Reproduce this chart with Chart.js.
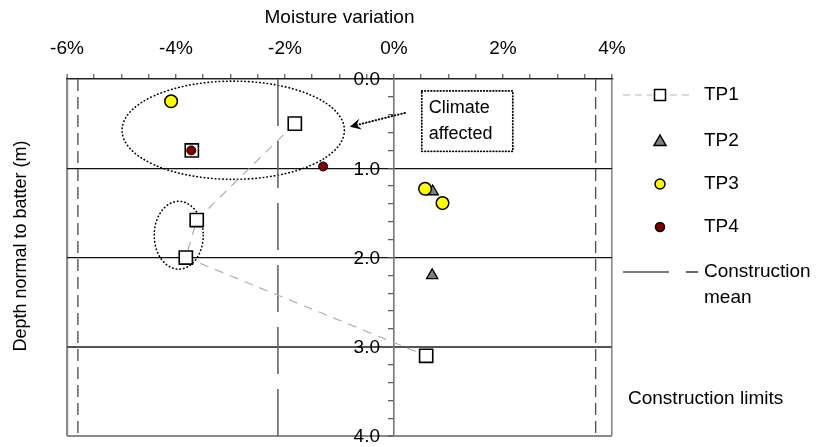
<!DOCTYPE html>
<html>
<head>
<meta charset="utf-8">
<script src="https://cdn.jsdelivr.net/npm/chart.js@4"></script>
<style>
  html, body { margin: 0; padding: 0; background: #fff; }
</style>
</head>
<body>
<canvas id="chart" width="819" height="447"></canvas>
<script>
// test pit readings: moisture variation (%) vs depth (m)
const tp1X = [-1.82, -3.71, -3.62, -3.82, 0.59];
const tp1Y = [0.5, 0.8, 1.58, 2.0, 3.1];
const tp1PathX = [-1.82, -3.62, -3.82, 0.59];
const tp1PathY = [0.5, 1.58, 2.0, 3.1];
const tp2X = [0.71, 0.70];
const tp2Y = [1.26, 2.2];
const tp3X = [-4.09, 0.57, 0.89];
const tp3Y = [0.25, 1.23, 1.39];
const tp4X = [-3.72, -1.30];
const tp4Y = [0.8, 0.98];
const meanX = [-2.13];
const limitsX = [-5.8, 3.7];
const depthSpan = [0, 4];
const xTickLabels = [-6, -4, -2, 0, 2, 4];
const yTickLabels = [0, 1, 2, 3, 4];

// annotations in data units: [centre x, centre y, radius x, radius y]
const bigEllipse = [-2.95, 0.574, 2.04, 0.55];
const smallEllipse = [-3.95, 1.75, 0.45, 0.38];
const noteBox = [0.51, 0.134, 2.18, 0.81];
const noteArrow = [0.20, 0.38, -0.81, 0.535];
const noteLines = ['Climate', 'affected'];

const FONT = '"Liberation Sans", Arial, sans-serif';
const pts = (xs, ys) => xs.map((x, i) => ({ x, y: ys[i] }));
const isWhole = v => Math.abs(v - Math.round(v)) < 1e-6;

const vline = (x, color, dash, width) => ({
  data: depthSpan.map(y => ({ x, y })),
  showLine: true, pointRadius: 0, borderColor: color, borderDash: dash,
  borderWidth: width, order: 6
});

const annotations = {
  id: 'annotations',
  beforeDatasetsDraw(chart) {
    const { ctx, scales: { x, y } } = chart;
    ctx.save();
    ctx.strokeStyle = '#000';
    ctx.lineWidth = 1.6;
    ctx.lineCap = 'round';
    ctx.setLineDash([0.5, 3.2]);
    [bigEllipse, smallEllipse].forEach(e => {
      const cx = x.getPixelForValue(e[0]);
      const cy = y.getPixelForValue(e[1]);
      const rx = x.getPixelForValue(e[0] + e[2]) - cx;
      const ry = y.getPixelForValue(e[1] + e[3]) - cy;
      ctx.beginPath();
      ctx.ellipse(cx, cy, rx, ry, 0, 0, Math.PI * 2);
      ctx.stroke();
    });
    // text box
    const bx1 = x.getPixelForValue(noteBox[0]), by1 = y.getPixelForValue(noteBox[1]);
    const bx2 = x.getPixelForValue(noteBox[2]), by2 = y.getPixelForValue(noteBox[3]);
    ctx.setLineDash([0.5, 2.6]);
    ctx.lineWidth = 1.8;
    ctx.strokeRect(bx1, by1, bx2 - bx1, by2 - by1);
    ctx.setLineDash([]);
    ctx.fillStyle = '#000';
    ctx.font = '18px ' + FONT;
    ctx.textAlign = 'left';
    ctx.textBaseline = 'middle';
    ctx.fillText(noteLines[0], bx1 + 7, by1 + 17);
    ctx.fillText(noteLines[1], bx1 + 7, by1 + 43);
    // arrow
    const ax1 = x.getPixelForValue(noteArrow[0]), ay1 = y.getPixelForValue(noteArrow[1]);
    const ax2 = x.getPixelForValue(noteArrow[2]), ay2 = y.getPixelForValue(noteArrow[3]);
    const ang = Math.atan2(ay2 - ay1, ax2 - ax1);
    ctx.setLineDash([0.5, 2.8]);
    ctx.lineWidth = 2;
    ctx.beginPath();
    ctx.moveTo(ax1, ay1);
    ctx.lineTo(ax2 - 6 * Math.cos(ang), ay2 - 6 * Math.sin(ang));
    ctx.stroke();
    ctx.setLineDash([]);
    ctx.translate(ax2, ay2);
    ctx.rotate(ang);
    ctx.beginPath();
    ctx.moveTo(0, 0);
    ctx.lineTo(-11, -5.5);
    ctx.lineTo(-7, 0);
    ctx.lineTo(-11, 5.5);
    ctx.closePath();
    ctx.fill();
    ctx.restore();
  }
};

const sideKey = {
  id: 'sideKey',
  afterDraw(chart) {
    const { ctx, scales: { x, y } } = chart;
    ctx.save();
    ctx.font = '19px ' + FONT;
    ctx.fillStyle = '#000';
    ctx.textBaseline = 'middle';
    // depth labels sit left of the zero line
    ctx.textAlign = 'right';
    const zx = x.getPixelForValue(0);
    yTickLabels.forEach(v => ctx.fillText(v.toFixed(1), zx - 14, y.getPixelForValue(v) + 1));
    ctx.textAlign = 'left';
    const mx = 660, tx = 704;
    // TP1
    ctx.strokeStyle = '#b5b5b5';
    ctx.lineWidth = 1.2;
    ctx.setLineDash([7, 5]);
    ctx.beginPath(); ctx.moveTo(623, 95); ctx.lineTo(652, 95); ctx.stroke();
    ctx.beginPath(); ctx.moveTo(670, 95); ctx.lineTo(694, 95); ctx.stroke();
    ctx.setLineDash([]);
    ctx.strokeStyle = '#000';
    ctx.lineWidth = 1.5;
    ctx.fillStyle = '#fff';
    ctx.fillRect(mx - 5.5, 89.5, 11, 11);
    ctx.strokeRect(mx - 5.5, 89.5, 11, 11);
    // TP2
    ctx.fillStyle = '#808080';
    ctx.beginPath();
    ctx.moveTo(mx, 135); ctx.lineTo(mx + 6, 145.5); ctx.lineTo(mx - 6, 145.5); ctx.closePath();
    ctx.fill(); ctx.stroke();
    // TP3
    ctx.fillStyle = '#ffff00';
    ctx.beginPath(); ctx.arc(mx, 184, 5, 0, Math.PI * 2); ctx.fill(); ctx.stroke();
    // TP4
    ctx.fillStyle = '#800000';
    ctx.beginPath(); ctx.arc(mx, 227, 4.5, 0, Math.PI * 2); ctx.fill(); ctx.stroke();
    // construction mean
    ctx.lineWidth = 1.2;
    ctx.beginPath(); ctx.moveTo(623, 272); ctx.lineTo(669, 272); ctx.stroke();
    ctx.beginPath(); ctx.moveTo(686, 272); ctx.lineTo(698, 272); ctx.stroke();
    ctx.fillStyle = '#000';
    ctx.fillText('TP1', tx, 95);
    ctx.fillText('TP2', tx, 141);
    ctx.fillText('TP3', tx, 184);
    ctx.fillText('TP4', tx, 227);
    ctx.fillText('Construction', tx, 272);
    ctx.fillText('mean', tx, 298);
    ctx.fillText('Construction limits', 628, 399);
    // y axis title
    ctx.font = '18px ' + FONT;
    ctx.translate(21, 246);
    ctx.rotate(-Math.PI / 2);
    ctx.textAlign = 'center';
    ctx.fillText('Depth normal to batter (m)', 0, 0);
    ctx.restore();
  }
};

new Chart(document.getElementById('chart'), {
  type: 'scatter',
  data: {
    datasets: [
      { label: 'TP4', data: pts(tp4X, tp4Y), pointStyle: 'circle', pointRadius: 4.5,
        backgroundColor: '#800000', borderColor: '#000', borderWidth: 1, order: 0 },
      { label: 'TP3', data: pts(tp3X, tp3Y), pointStyle: 'circle', pointRadius: 6.3,
        backgroundColor: '#ffff00', borderColor: '#000', borderWidth: 1.5, order: 1 },
      { label: 'TP2', data: pts(tp2X, tp2Y), pointStyle: 'triangle', pointRadius: 6.5,
        backgroundColor: '#808080', borderColor: '#000', borderWidth: 1.3, order: 2 },
      { label: 'TP1', data: pts(tp1X, tp1Y), pointStyle: 'rect', pointRadius: 9.3,
        backgroundColor: '#fff', borderColor: '#000', borderWidth: 1.6, order: 3 },
      { label: 'TP1 trend', data: pts(tp1PathX, tp1PathY), showLine: true, pointRadius: 0,
        borderColor: '#b0b0b0', borderDash: [9, 7], borderWidth: 1.2, order: 4 },
      vline(meanX[0], '#666', [47, 15], 1.6),
      ...limitsX.map(v => vline(v, '#555', [12, 6], 1.4))
    ]
  },
  options: {
    responsive: false,
    animation: false,
    events: [],
    layout: { padding: { left: 67, right: 207, top: 0, bottom: 9 } },
    plugins: { legend: { display: false }, tooltip: { enabled: false } },
    scales: {
      x: {
        type: 'linear', position: 'top', min: -6, max: 4,
        afterFit: s => { s.height = 79; s.paddingLeft = 0; s.paddingRight = 0; },
        ticks: {
          stepSize: 0.5, autoSkip: false, maxRotation: 0, padding: 14,
          color: '#000', font: { family: FONT, size: 19 },
          callback: v => (isWhole(v) && xTickLabels.includes(Math.round(v))) ? Math.round(v) + '%' : ''
        },
        grid: {
          drawOnChartArea: true, tickLength: 5, tickColor: '#333', tickWidth: 1,
          color: c => (c.tick && (c.tick.value === -6 || c.tick.value === 4)) ? '#8a8a8a' : 'rgba(0,0,0,0)',
          lineWidth: c => (c.tick && c.tick.value === -6) ? 2.2 : 1.6
        },
        border: { color: '#222', width: 1.5 },
        title: {
          display: true, text: 'Moisture variation', color: '#000',
          font: { family: FONT, size: 19 }, padding: { top: 6, bottom: 0 }
        }
      },
      y: {
        type: 'linear', position: { x: 0 }, reverse: true, min: 0, max: 4,
        afterFit: s => { s.paddingTop = 0; s.paddingBottom = 0; },
        ticks: { stepSize: 0.2, autoSkip: false, display: false },
        grid: {
          drawOnChartArea: true, tickLength: 5, tickColor: '#555', tickWidth: 1.2,
          color: c => {
            if (!c.tick || !isWhole(c.tick.value)) return 'rgba(0,0,0,0)';
            const v = Math.round(c.tick.value);
            if (v === 1 || v === 2) return '#111';
            if (v === 3) return '#555';
            if (v === 4) return '#8a8a8a';
            return 'rgba(0,0,0,0)';
          },
          lineWidth: c => (c.tick && Math.round(c.tick.value) >= 3 && isWhole(c.tick.value)) ? 2 : 1.3
        },
        border: { color: '#777', width: 1.6 }
      }
    }
  },
  plugins: [annotations, sideKey]
});
</script>
</body>
</html>
